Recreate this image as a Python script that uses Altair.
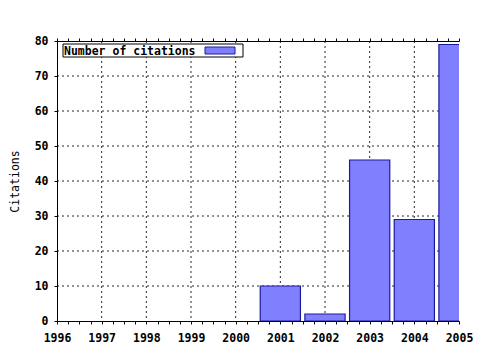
import altair as alt
import pandas as pd

years = [1996, 1997, 1998, 1999, 2000, 2001, 2002, 2003, 2004, 2005]
citations = [0, 0, 0, 0, 0, 10, 2, 46, 29, 79]
series_name = "Number of citations"
y_ticks = [0, 10, 20, 30, 40, 50, 60, 70, 80]
grid_y = [10, 20, 30, 40, 50, 60, 70]
grid_x = [1997, 1998, 1999, 2000, 2001, 2002, 2003, 2004]
x_tick_values = [y + q for y in years for q in (0, 0.25, 0.5, 0.75) if y + q <= 2005]

FONT = "DejaVu Sans Mono"
FILL = "#8080ff"
EDGE = "#1a1a9c"

df = pd.DataFrame({"year": years, "citations": citations})

xscale = alt.Scale(domain=[1996, 2005], nice=False, zero=False)
yscale = alt.Scale(domain=[0, 80], nice=False)

yaxis = alt.Axis(values=y_ticks, title="Citations", titleFont=FONT, titleFontSize=11.5,
                 titleFontWeight="normal", titleColor="black", titlePadding=14,
                 labelFont=FONT, labelFontSize=11.5, labelFontWeight="bold", labelColor="black",
                 labelPadding=6, tickSize=3, tickColor="black", domainColor="black",
                 grid=False, format="d")

bottom_axis = alt.Axis(orient="bottom", values=x_tick_values, title=None,
                       labelExpr="datum.value % 1 == 0 ? datum.value : ''",
                       labelOverlap=False, labelFlush=False,
                       labelFont=FONT, labelFontSize=11.5, labelFontWeight="bold", labelColor="black",
                       labelPadding=8, tickSize=3, tickColor="black", domainColor="black",
                       grid=False)

top_axis = alt.Axis(orient="top", values=x_tick_values, title=None, labels=False,
                    tickSize=3, tickColor="black", domainColor="black", grid=False)

hgrid = alt.Chart(pd.DataFrame({"v": grid_y})).mark_rule(
    color="black", strokeDash=[2, 3], strokeWidth=1, opacity=0.85
).encode(y=alt.Y("v:Q", scale=yscale, axis=yaxis))

vgrid = alt.Chart(pd.DataFrame({"g": grid_x})).mark_rule(
    color="black", strokeDash=[2, 3], strokeWidth=1, opacity=0.85
).encode(x=alt.X("g:Q", scale=xscale, axis=top_axis))

bars = alt.Chart(df).transform_filter(
    alt.datum.citations > 0
).transform_calculate(
    x0="datum.year - 0.45", x1="datum.year + 0.45"
).mark_bar(clip=True, fill=FILL, stroke=EDGE, strokeWidth=1.2).encode(
    x=alt.X("x0:Q", scale=xscale, axis=bottom_axis),
    x2="x1:Q",
    y=alt.Y("citations:Q", scale=yscale, axis=yaxis),
    y2=alt.datum(0),
)

leg_df = pd.DataFrame({"name": [series_name]})
leg_box = alt.Chart(leg_df).mark_rect(fill="white", stroke="black", strokeWidth=1).encode(
    x=alt.value(6), x2=alt.value(186), y=alt.value(3), y2=alt.value(16))
leg_text = alt.Chart(leg_df).mark_text(
    align="left", baseline="alphabetic", font=FONT, fontSize=11.5, fontWeight="bold", color="black"
).encode(x=alt.value(7), y=alt.value(13.5), text="name:N")
leg_swatch = alt.Chart(leg_df).mark_rect(fill=FILL, stroke=EDGE, strokeWidth=1).encode(
    x=alt.value(148), x2=alt.value(178), y=alt.value(6), y2=alt.value(13))

chart = alt.layer(hgrid, vgrid, bars, leg_box, leg_text, leg_swatch).resolve_axis(
    x="independent"
).properties(
    width=402, height=280,
    autosize=alt.AutoSizeParams(type="none"),
    padding={"left": 57, "top": 41, "right": 21, "bottom": 29},
    background="white",
).configure_view(stroke=None)

chart.save("out.html", embed_options={"renderer": "svg", "actions": False})
